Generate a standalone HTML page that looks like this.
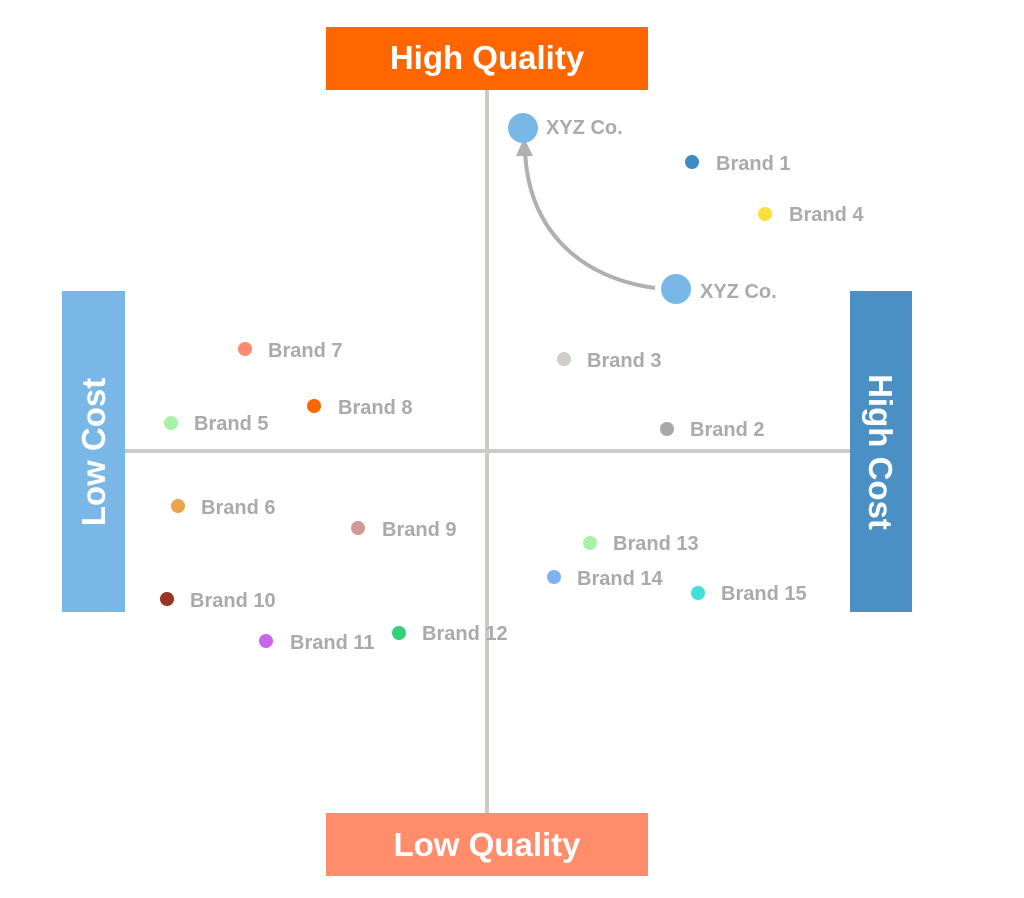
<!DOCTYPE html>
<html><head><style>body{margin:0;background:#fff}svg{display:block}</style></head><body>
<svg width="1024" height="898" xmlns="http://www.w3.org/2000/svg" font-family="Liberation Sans, sans-serif" font-weight="bold">
<line x1="487" y1="90" x2="487" y2="813" stroke="#cdc9c6" stroke-width="4"/>
<line x1="125" y1="451" x2="850" y2="451" stroke="#cdc9c6" stroke-width="4"/>
<rect x="326" y="27" width="322" height="63" fill="#ff6600"/>
<text x="487" y="69" font-size="33" fill="#fff" text-anchor="middle">High Quality</text>
<rect x="326" y="813" width="322" height="63" fill="#ff8c6b"/>
<text x="487" y="856" font-size="33" fill="#fff" text-anchor="middle">Low Quality</text>
<rect x="62" y="291" width="63" height="321" fill="#79b8e6"/>
<text transform="translate(105,452) rotate(-90)" font-size="33" fill="#fff" text-anchor="middle">Low Cost</text>
<rect x="850" y="291" width="62" height="321" fill="#4a90c4"/>
<text transform="translate(869,452) rotate(90)" font-size="33" fill="#fff" text-anchor="middle">High Cost</text>
<path d="M655 288 C580 278 528 230 525 150" fill="none" stroke="#b0b0b0" stroke-width="4"/>
<polygon points="524,138 516,156 533,156" fill="#b0b0b0"/>
<g font-size="20" fill="#aaa">
<circle cx="523" cy="128" r="15" fill="#79b8e6"/><text x="546" y="134">XYZ Co.</text>
<circle cx="676" cy="289" r="15" fill="#79b8e6"/><text x="700" y="298">XYZ Co.</text>
<circle cx="692" cy="162" r="7" fill="#3f8bc3"/><text x="716" y="170">Brand 1</text>
<circle cx="765" cy="214" r="7" fill="#f7e03c"/><text x="789" y="221">Brand 4</text>
<circle cx="564" cy="359" r="7" fill="#d0ccc8"/><text x="587" y="367">Brand 3</text>
<circle cx="667" cy="429" r="7" fill="#a8a8a8"/><text x="690" y="436">Brand 2</text>
<circle cx="245" cy="349" r="7" fill="#ff8a70"/><text x="268" y="357">Brand 7</text>
<circle cx="314" cy="406" r="7" fill="#ff6600"/><text x="338" y="414">Brand 8</text>
<circle cx="171" cy="423" r="7" fill="#a6f2a8"/><text x="194" y="430">Brand 5</text>
<circle cx="178" cy="506" r="7" fill="#e8a54e"/><text x="201" y="514">Brand 6</text>
<circle cx="358" cy="528" r="7" fill="#d29a94"/><text x="382" y="536">Brand 9</text>
<circle cx="167" cy="599" r="7" fill="#9a3322"/><text x="190" y="607">Brand 10</text>
<circle cx="266" cy="641" r="7" fill="#c766e8"/><text x="290" y="649">Brand 11</text>
<circle cx="399" cy="633" r="7" fill="#33d17a"/><text x="422" y="640">Brand 12</text>
<circle cx="590" cy="543" r="7" fill="#a6f2a8"/><text x="613" y="550">Brand 13</text>
<circle cx="554" cy="577" r="7" fill="#7fb3f0"/><text x="577" y="585">Brand 14</text>
<circle cx="698" cy="593" r="7" fill="#40e0d8"/><text x="721" y="600">Brand 15</text>
</g>
</svg>
</body></html>
